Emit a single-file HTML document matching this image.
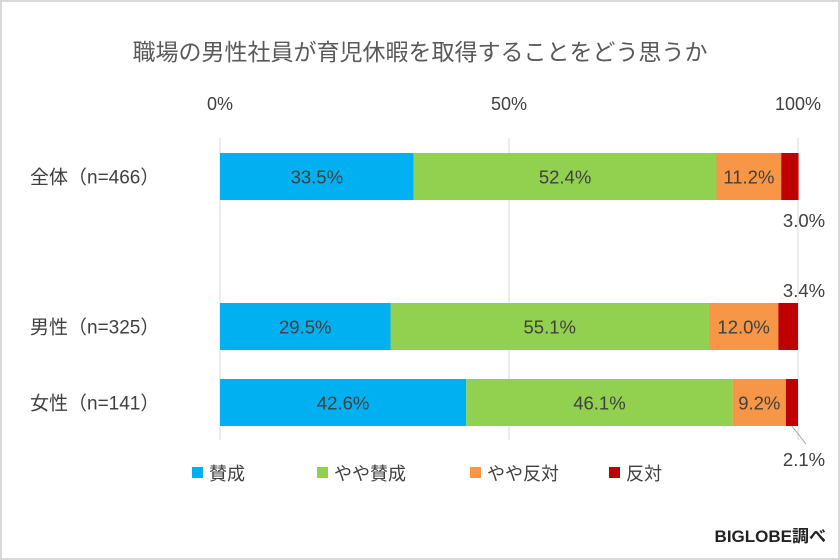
<!DOCTYPE html>
<html><head><meta charset="utf-8"><style>
html,body{margin:0;padding:0;background:#fff}
svg{display:block;font-family:"Liberation Sans","Noto Sans CJK JP",sans-serif}
</style></head><body>
<svg id="chart" width="840" height="560" viewBox="0 0 840 560">
<rect x="1" y="1" width="838" height="558" fill="#fff" stroke="#d9d9d9" stroke-width="2"/>
<text x="420" y="60" font-size="23" fill="#595959" text-anchor="middle">職場の男性社員が育児休暇を取得することをどう思うか</text>
<g id="grid"></g><g id="bars"></g>
<g id="legend" font-size="18" fill="#404040"></g>
<text x="826" y="542" font-size="17" font-weight="bold" fill="#222" text-anchor="end">BIGLOBE調べ</text>
</svg>
<script>
const categories=["全体（n=466）","男性（n=325）","女性（n=141）"];
const seriesNames=["賛成","やや賛成","やや反対","反対"];
const s1=[33.5,29.5,42.6];
const s2=[52.4,55.1,46.1];
const s3=[11.2,12.0,9.2];
const s4=[3.0,3.4,2.1];
const ticks=[0,50,100];
const colors=["#00b0f0","#92d050","#f79646","#c00000"];
const NS="http://www.w3.org/2000/svg";
const x0=220,x1=798;
const xs=v=>x0+(x1-x0)*v/100;
const rowY=[153,303,379],bh=47;
function mk(t,a,p){const e=document.createElementNS(NS,t);for(const k in a)e.setAttribute(k,a[k]);p.appendChild(e);return e;}
const grid=document.getElementById('grid'),bars=document.getElementById('bars'),leg=document.getElementById('legend');
ticks.forEach(t=>{
 const l=mk('line',{x1:xs(t),x2:xs(t),y1:138,y2:440,stroke:'#d9d9d9','stroke-width':1},grid);
 
 
 const tx=mk('text',{x:xs(t),y:110,'font-size':18,fill:'#404040','text-anchor':'middle'},grid);
 tx.textContent=t+'%';
 
 
});
const series=[s1,s2,s3,s4];
categories.forEach((c,i)=>{
 const y=rowY[i];
 const lb=mk('text',{x:30,y:y+bh/2+7,'font-size':19,fill:'#404040'},bars);
 lb.textContent=c;
 
 
 let acc=0;
 series.forEach((s,j)=>{
  const v=s[i];
  const r=mk('rect',{x:xs(acc),y:y,width:xs(acc+v)-xs(acc),height:bh,fill:colors[j]},bars);
  
  
  const t=mk('text',{'font-size':18.5,fill:'#404040','text-anchor':'middle'},bars);
  t.textContent=v.toFixed(1)+'%';
  
  
  if(j<3){t.setAttribute('x',xs(acc+v/2));t.setAttribute('y',y+bh/2+7);}
  else{
   t.setAttribute('x',xs(100)+6);
   if(i===1){t.setAttribute('y',y-6);}
   else if(i===0){t.setAttribute('y',y+bh+27);}
   else{t.setAttribute('y',y+bh+40);
    const ll=mk('line',{x1:xs(acc+v/2),y1:y+bh,x2:xs(100)+8,y2:y+bh+18,stroke:'#a6a6a6'},bars);
    
    }
  }
  acc+=v;
 });
});
const lx=[192,317,470,609];
seriesNames.forEach((n,j)=>{
 const r=mk('rect',{x:lx[j],y:467,width:11,height:11,fill:colors[j]},leg);
 
 
 const t=mk('text',{x:lx[j]+17,y:480},leg);
 t.textContent=n;
 
 
});
</script>
</body></html>
